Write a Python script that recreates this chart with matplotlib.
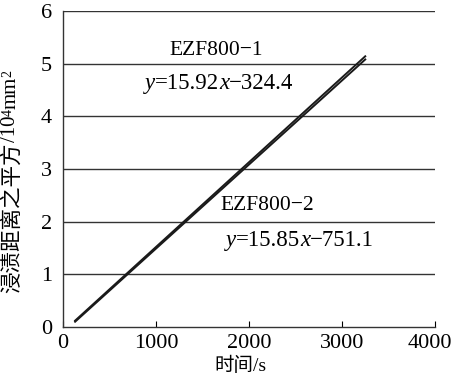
import matplotlib
matplotlib.use("Agg")
import matplotlib.pyplot as plt
from matplotlib.transforms import ScaledTranslation

plt.rcParams['font.family'] = ['Liberation Serif', 'Noto Sans CJK SC']

# data (time in s, squared distance in 10^4 mm^2)
series_names = ["EZF800−1", "EZF800−2"]
line1_x = [130, 3250]
line1_y = [0.12, 5.14]
line2_x = [130, 3250]
line2_y = [0.10, 5.08]
fit_slopes = ["15.92", "15.85"]
fit_intercepts = ["324.4", "751.1"]
x_ticks = [0, 1000, 2000, 3000, 4000]
y_ticks = [0, 1, 2, 3, 4, 5, 6]

fig = plt.figure(figsize=(4.55, 3.76), dpi=100)
ax = fig.add_axes([63 / 455, 49 / 376, 372 / 455, 316 / 376])

for yv in y_ticks[1:]:
    ax.axhline(yv, color='#333333', lw=1.0, zorder=1)

ax.plot(line1_x, line1_y, color='#1a1a1a', lw=1.4, zorder=3)
ax.plot(line2_x, line2_y, color='#1a1a1a', lw=1.4, zorder=3)

ax.set_xlim(0, 4000)
ax.set_ylim(0, 6)
ax.set_xticks(x_ticks)
ax.set_yticks(y_ticks)
ax.tick_params(axis='x', direction='in', length=4, labelsize=16, pad=5)
ax.tick_params(axis='y', length=0, labelsize=16, pad=8)
for s in ['top', 'right']:
    ax.spines[s].set_visible(False)
for s in ['left', 'bottom']:
    ax.spines[s].set_color('#333333')
    ax.spines[s].set_linewidth(1.0)

# last x tick label sits slightly left of its tick, as in the reference
last = ax.get_xticklabels()[-1]
last.set_transform(last.get_transform() + ScaledTranslation(-5 / 100, 0, fig.dpi_scale_trans))


def eq(xp, yp, slope, icpt, fs=16.5):
    t = ax.text(xp, yp, 'y', fontsize=fs, style='italic', va='center', ha='left')
    t2 = ax.annotate('=' + slope, xycoords=t, xy=(1, 0.5), va='center', ha='left', fontsize=fs)
    t3 = ax.annotate('x', xycoords=t2, xy=(1, 0.5), va='center', ha='left', fontsize=fs, style='italic')
    ax.annotate('−' + icpt, xycoords=t3, xy=(1, 0.5), va='center', ha='left', fontsize=fs)


ax.text(1140, 5.25, series_names[0], fontsize=15.5, va='center', ha='left')
eq(880, 4.62, fit_slopes[0], fit_intercepts[0])
ax.text(1690, 2.30, series_names[1], fontsize=15.5, va='center', ha='left')
eq(1748, 1.64, fit_slopes[1], fit_intercepts[1])

# x label
fig.text(240 / 455, 1 - 366 / 376, '时间/s', fontsize=14, ha='center', va='center')

# y label built from pieces (CJK part, then Latin with superscripts), rotated
p1 = fig.text(13 / 455, 1 - 293 / 376, '浸渍距离之平方', fontsize=15.5, rotation=90,
              ha='center', va='bottom')
p2 = ax.annotate('/10', xycoords=p1, xy=(0.5, 1), xytext=(-1.5, 0), textcoords='offset points',
                 fontsize=15, rotation=90, ha='center', va='bottom', annotation_clip=False)
p3 = ax.annotate('4', xycoords=p2, xy=(0.0, 1), fontsize=10, rotation=90,
                 ha='left', va='bottom', annotation_clip=False)
p4 = ax.annotate('mm', xycoords=p2, xy=(0.5, 1), xytext=(0, 5), textcoords='offset points',
                 fontsize=15, rotation=90, ha='center', va='bottom', annotation_clip=False)
p5 = ax.annotate('2', xycoords=p4, xy=(0.0, 1), fontsize=10, rotation=90,
                 ha='left', va='bottom', annotation_clip=False)

fig.savefig('out.png', dpi=100)
